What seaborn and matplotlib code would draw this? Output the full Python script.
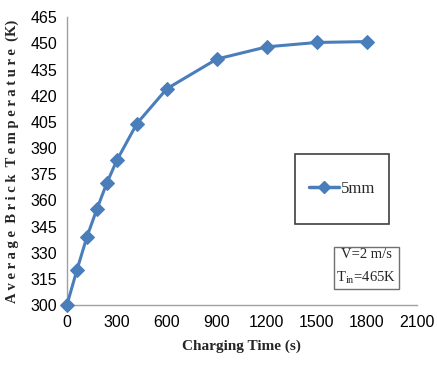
import numpy as np
import pandas as pd
import matplotlib
matplotlib.use('Agg')
import matplotlib.pyplot as plt
import seaborn as sns
from matplotlib.patches import Rectangle
from matplotlib.lines import Line2D

# data
time_s = [0, 60, 120, 180, 240, 300, 420, 600, 900, 1200, 1500, 1800]
temp_k = [300, 320, 339, 355, 370, 383, 404, 424, 441, 448, 450.5, 451]
series = '5mm'
x_ticks = [0, 300, 600, 900, 1200, 1500, 1800, 2100]
y_ticks = [300, 315, 330, 345, 360, 375, 390, 405, 420, 435, 450, 465]

sns.set_style('white')
plt.rcParams['font.family'] = ['Liberation Sans Narrow', 'Liberation Sans', 'DejaVu Sans']
plt.rcParams['mathtext.fontset'] = 'custom'
plt.rcParams['mathtext.rm'] = 'Liberation Serif'

df = pd.DataFrame({'Charging Time (s)': time_s, 'T': temp_k, 'case': series})
blue = '#4a7ebb'

fig = plt.figure(figsize=(4.37, 3.65), dpi=100)
ax = fig.add_axes([0.153, 0.164, 0.801, 0.789])

sns.lineplot(data=df, x='Charging Time (s)', y='T', ax=ax, color=blue,
             linewidth=2.2, marker='D', markersize=7, markeredgecolor=blue,
             legend=False, clip_on=False, zorder=4)

ax.set_xlim(0, 2100)
ax.set_ylim(300, 465)
ax.set_xticks(x_ticks)
ax.set_yticks(y_ticks)
ax.tick_params(axis='both', labelsize=11.5, length=0, pad=7, colors='black')

for s in ['top', 'right']:
    ax.spines[s].set_visible(False)
for s in ['left', 'bottom']:
    ax.spines[s].set_color('#a0a0a0')
    ax.spines[s].set_linewidth(1.0)

ax.set_xlabel('Charging Time (s)', fontsize=11, fontweight='bold',
              family='Liberation Serif', labelpad=7)
ax.set_ylabel('A v e r a g e  B r i c k  T e m p e r a t u r e  (K)', fontsize=10.5,
              fontweight='bold', family='Liberation Serif', labelpad=8)

# legend box
ax.add_patch(Rectangle((0.651, 0.281), 0.269, 0.243, transform=ax.transAxes,
                       fill=False, edgecolor='#404040', linewidth=1.2, zorder=3))
h = Line2D([], [], color=blue, linewidth=2.5, marker='D', markersize=6)
leg = ax.legend([h], [series], loc='center', bbox_to_anchor=(0.786, 0.403),
                frameon=False, handlelength=1.8, handletextpad=0.1,
                prop={'family': 'Liberation Serif', 'size': 12})

ax.text(0.856, 0.132, 'V=2 m/s\n' + r'T$_{\mathrm{in}}$=465K', transform=ax.transAxes,
        ha='center', va='center', fontsize=10.5, family='Liberation Serif',
        linespacing=1.7,
        bbox=dict(boxstyle='square,pad=0.2', facecolor='white', edgecolor='#707070',
                  linewidth=1.0))

fig.savefig('out.png', dpi=100)
